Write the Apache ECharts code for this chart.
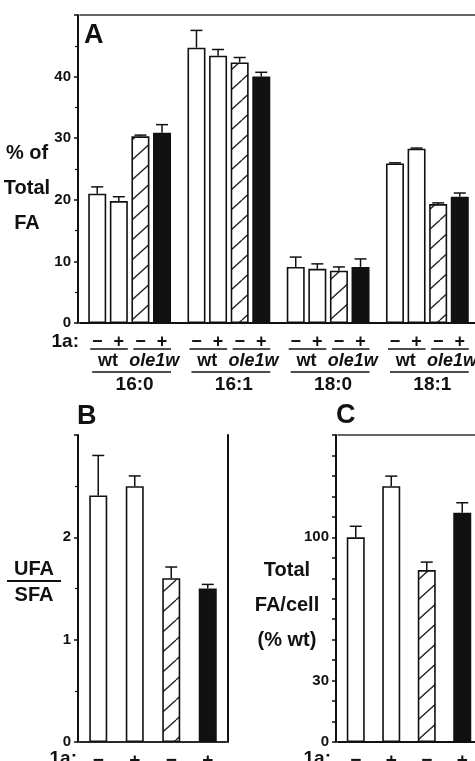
<!DOCTYPE html>
<html><head><meta charset="utf-8">
<script src="https://cdn.jsdelivr.net/npm/echarts@6/dist/echarts.min.js"></script>
<style>html,body{margin:0;padding:0;background:#fff}#c{width:475px;height:761px}</style>
</head><body><div id="c"></div>
<script>
// ---- data ----
const fattyAcids = ['16:0', '16:1', '18:0', '18:1'];
const genotypeGroups = ['wt', 'ole1w'];
const treatmentSigns = ['\u2212', '+', '\u2212', '+'];
const wtMinus = [21.0, 44.7, 9.1, 25.9];
const wtMinusErr = [1.1, 2.8, 1.6, 0.1];
const wtPlus = [19.8, 43.4, 8.8, 28.3];
const wtPlusErr = [0.7, 1.0, 0.8, 0.1];
const oleMinus = [30.3, 42.3, 8.5, 19.3];
const oleMinusErr = [0.2, 0.8, 0.6, 0.2];
const olePlus = [30.9, 40.0, 9.1, 20.5];
const olePlusErr = [1.3, 0.7, 1.3, 0.6];
const ufaSfaRatio = [2.41, 2.50, 1.60, 1.50];
const ufaSfaErr = [0.39, 0.10, 0.11, 0.04];
const totalFA = [100, 125, 84, 112];
const totalFAErr = [5.4, 4.9, 3.9, 4.9];
const cTickLabels = [0, 30, 100];

// ---- styles ----
const FONT = '"Liberation Sans", Arial, Helvetica, sans-serif';
const INK = '#111';
function hatchCanvas() {
  const w = 22, h = 20;
  const c = document.createElement('canvas');
  c.width = w; c.height = h;
  const g = c.getContext('2d');
  g.fillStyle = '#fff'; g.fillRect(0, 0, w, h);
  g.strokeStyle = '#222'; g.lineWidth = 1.3;
  for (let k = -1; k <= 1; k++) {
    g.beginPath(); g.moveTo(k * w, h); g.lineTo(k * w + w, 0); g.stroke();
  }
  return c;
}
const hatch = { image: hatchCanvas(), repeat: 'repeat' };
const fills = ['#fff', '#fff', hatch, INK];
const BAR_W = 18, GAP_FRAC = 0.2;
const STEP = BAR_W * (1 + GAP_FRAC);

function txt(text, x, y, size, align, lineHeight) {
  const st = { text: text, font: 'bold ' + size + 'px ' + FONT, fill: INK,
    textAlign: align || 'center', textVerticalAlign: 'middle', align: align || 'center', verticalAlign: 'middle' };
  if (lineHeight) st.lineHeight = lineHeight;
  return { type: 'text', x: x, y: y, silent: true, style: st };
}

function errSeries(xi, yi, vals, errs, offset) {
  return {
    type: 'custom', xAxisIndex: xi, yAxisIndex: yi, clip: false, silent: true, z: 5,
    encode: { x: 0, y: [1, 2] },
    data: vals.map((v, i) => [i, v, v + errs[i]]),
    renderItem: function (params, api) {
      const b = api.coord([api.value(0), api.value(1)]);
      const t = api.coord([api.value(0), api.value(2)]);
      const x = b[0] + offset;
      const st = { stroke: INK, lineWidth: 1.5 };
      return { type: 'group', children: [
        { type: 'line', shape: { x1: x, y1: b[1], x2: x, y2: t[1] }, style: st },
        { type: 'line', shape: { x1: x - 6, y1: t[1], x2: x + 6, y2: t[1] }, style: st }
      ] };
    }
  };
}

const seriesA = [wtMinus, wtPlus, oleMinus, olePlus].map((d, i) => ({
  type: 'bar', xAxisIndex: 0, yAxisIndex: 0, data: d, barWidth: BAR_W, barGap: (GAP_FRAC * 100) + '%',
  itemStyle: { color: fills[i], borderColor: INK, borderWidth: 1.6 }, silent: true
}));
const errsA = [[wtMinus, wtMinusErr], [wtPlus, wtPlusErr], [oleMinus, oleMinusErr], [olePlus, olePlusErr]]
  .map((p, i) => errSeries(0, 0, p[0], p[1], (i - 1.5) * STEP));

const labelsA = {
  type: 'custom', xAxisIndex: 0, yAxisIndex: 0, clip: false, silent: true,
  data: fattyAcids.map((n, i) => [i, 0]),
  renderItem: function (params, api) {
    const idx = api.value(0);
    const p = api.coord([idx, 0]);
    const cx = p[0], y0 = p[1];
    const off = [-1.5, -0.5, 0.5, 1.5].map(k => k * STEP);
    const ch = [];
    const ln = { stroke: INK, lineWidth: 1.6 };
    treatmentSigns.forEach((s, i) => ch.push(txt(s, cx + off[i], y0 + 19, 18)));
    ch.push({ type: 'line', shape: { x1: cx + off[0] - 7, y1: y0 + 26, x2: cx + off[1] + 9, y2: y0 + 26 }, style: ln });
    ch.push({ type: 'line', shape: { x1: cx + off[2] - 7, y1: y0 + 26, x2: cx + off[3] + 9, y2: y0 + 26 }, style: ln });
    ch.push(txt(genotypeGroups[0], cx + (off[0] + off[1]) / 2, y0 + 38, 18));
    const t2 = txt(genotypeGroups[1], cx + (off[2] + off[3]) / 2 + 3, y0 + 38, 18);
    t2.style.font = 'italic bold 18px ' + FONT;
    ch.push(t2);
    ch.push({ type: 'line', shape: { x1: cx + off[0] - 5, y1: y0 + 49, x2: cx + off[3] + 9, y2: y0 + 49 }, style: ln });
    ch.push(txt(fattyAcids[idx], cx + 5, y0 + 62, 19));
    return { type: 'group', children: ch };
  }
};

const barBC = (xi, yi, vals) => ({
  type: 'bar', xAxisIndex: xi, yAxisIndex: yi, barWidth: BAR_W, silent: true,
  data: vals.map((v, i) => ({ value: v, itemStyle: { color: fills[i], borderColor: INK, borderWidth: 1.6 } }))
});

const axLine = { show: true, lineStyle: { color: INK, width: 2 } };
const yLab = { fontFamily: FONT, fontWeight: 'bold', fontSize: 15, color: INK, margin: 7 };
const tick = { show: true, length: 4, lineStyle: { color: INK, width: 1.5 } };
const minor = { show: true, splitNumber: 2, length: 3, lineStyle: { color: INK, width: 1.2 } };
const topAxis = (gi) => ({ type: 'category', gridIndex: gi, position: 'top', data: treatmentSigns,
  axisLine: { show: true, lineStyle: { color: '#333', width: 1.6 } }, axisTick: { show: false }, axisLabel: { show: false } });
const botAxis = (gi) => ({ type: 'category', gridIndex: gi, data: treatmentSigns, axisLine: axLine,
  axisTick: { show: false },
  axisLabel: { fontFamily: FONT, fontWeight: 'bold', fontSize: 19, color: INK, margin: 9 } });

const option = {
  animation: false,
  backgroundColor: '#fff',
  grid: [
    { left: 80, top: 15, width: 397, height: 308, outerBoundsMode: 'none', containLabel: false },
    { left: 80, top: 435, width: 146, height: 307, outerBoundsMode: 'none', containLabel: false },
    { left: 338, top: 435, width: 142, height: 307, outerBoundsMode: 'none', containLabel: false }
  ],
  xAxis: [
    { type: 'category', gridIndex: 0, data: fattyAcids, axisLine: axLine, axisTick: { show: false }, axisLabel: { show: false } },
    { type: 'category', gridIndex: 0, position: 'top', data: fattyAcids,
      axisLine: { show: true, lineStyle: { color: '#333', width: 1.6 } }, axisTick: { show: false }, axisLabel: { show: false } },
    botAxis(1), topAxis(1), botAxis(2), topAxis(2)
  ],
  yAxis: [
    { type: 'value', gridIndex: 0, min: 0, max: 50, interval: 10, offset: 2, axisLine: axLine, axisTick: tick, minorTick: minor,
      splitLine: { show: false }, axisLabel: Object.assign({}, yLab, { showMaxLabel: false }) },
    { type: 'value', gridIndex: 1, min: 0, max: 3, interval: 1, offset: 2, axisLine: axLine, axisTick: tick, minorTick: minor,
      splitLine: { show: false }, axisLabel: Object.assign({}, yLab, { showMaxLabel: false }) },
    { type: 'value', gridIndex: 1, min: 0, max: 3, position: 'right', offset: 2, axisLine: axLine, axisTick: { show: false },
      splitLine: { show: false }, axisLabel: { show: false } },
    { type: 'value', gridIndex: 2, min: 0, max: 150, interval: 10, offset: 2, axisLine: axLine, axisTick: tick,
      splitLine: { show: false },
      axisLabel: Object.assign({}, yLab, { formatter: v => cTickLabels.indexOf(v) >= 0 ? String(v) : '' }) }
  ],
  series: [].concat(seriesA, errsA, [labelsA,
    barBC(2, 1, ufaSfaRatio), errSeries(2, 1, ufaSfaRatio, ufaSfaErr, 0),
    barBC(4, 3, totalFA), errSeries(4, 3, totalFA, totalFAErr, 0)
  ]),
  graphic: [
    txt('A', 84, 36, 27, 'left'),
    txt('B', 77, 417, 27, 'left'),
    txt('C', 336, 416, 27, 'left'),
    txt('% of\nTotal\nFA', 27, 188, 20, 'center', 35),
    txt('1a:', 79, 342, 19, 'right'),
    txt('UFA', 34, 569, 20),
    { type: 'line', silent: true, shape: { x1: 7, y1: 581, x2: 61, y2: 581 }, style: { stroke: INK, lineWidth: 2 } },
    txt('SFA', 34, 595, 20),
    txt('Total\nFA/cell\n(% wt)', 287, 605, 20, 'center', 35),
    txt('1a:', 77, 759, 19, 'right'),
    txt('1a:', 331, 759, 19, 'right')
  ]
};
const chart = echarts.init(document.getElementById('c'), null, { renderer: 'canvas' });
chart.setOption(option);
</script>
</body></html>
